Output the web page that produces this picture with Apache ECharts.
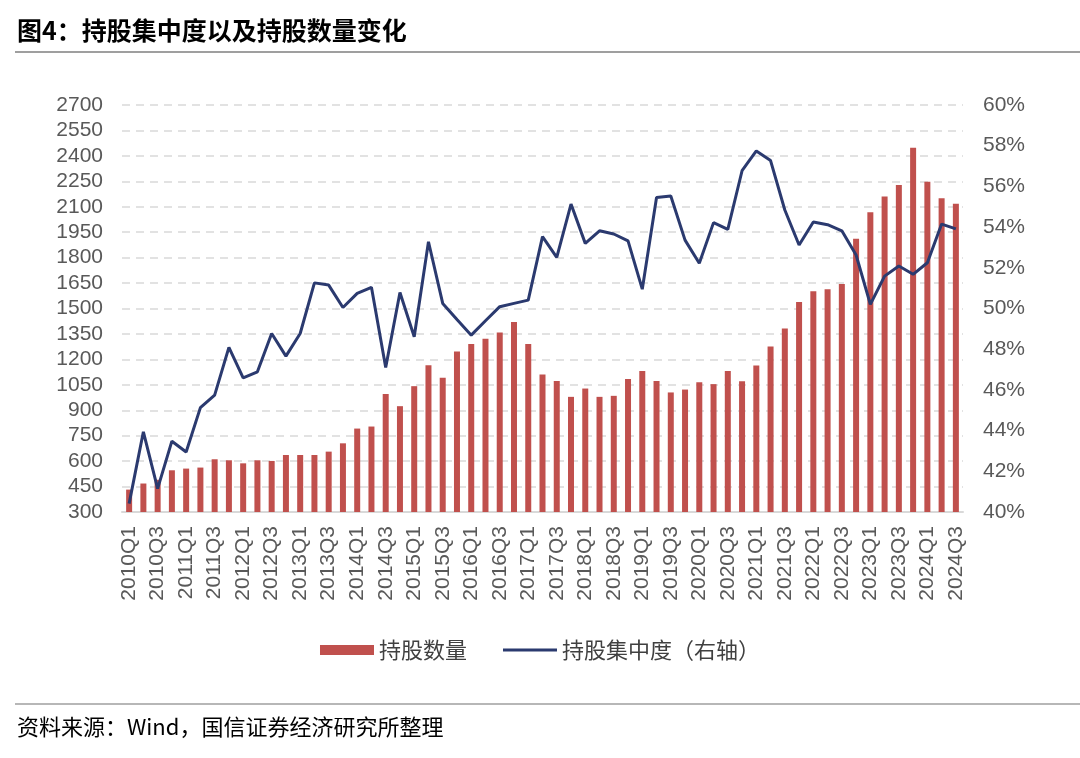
<!DOCTYPE html>
<html>
<head>
<meta charset="utf-8">
<script src="https://cdn.jsdelivr.net/npm/echarts@6/dist/echarts.min.js"></script>
<style>
html,body{margin:0;padding:0;background:#fff;}
#chart{width:1080px;height:758px;}
</style>
</head>
<body>
<div id="chart"></div>
<script>
const categories = [];
for (let y = 2010; y <= 2024; y++) {
  for (let q = 1; q <= 4; q++) {
    if (y === 2024 && q === 4) break;
    categories.push(y + 'Q' + q);
  }
}
const holdingCount = [432, 468, 490, 546, 556, 562, 611, 605, 587, 605, 601, 636, 636, 636, 656, 705, 792, 804, 996, 924,
  1042, 1166, 1091, 1246, 1290, 1321, 1359, 1421, 1290, 1111, 1073, 979, 1028, 979, 985, 1085, 1132, 1073, 1005, 1022,
  1065, 1054, 1132, 1071, 1164, 1276, 1382, 1539, 1601, 1613, 1644, 1911, 2067, 2161, 2228, 2448, 2248, 2150, 2118];
const concentration = [40.41, 43.94, 41.15, 43.48, 42.95, 45.13, 45.74, 48.09, 46.59, 46.89, 48.77, 47.66, 48.77, 51.26, 51.15, 50.05, 50.74, 51.04, 47.10, 50.79,
  48.61, 53.28, 50.25, 49.46, 48.69, 49.40, 50.09, 50.25, 50.41, 53.53, 52.51, 55.13, 53.20, 53.82, 53.66, 53.32, 50.95, 55.45, 55.53, 53.36,
  52.22, 54.22, 53.89, 56.77, 57.74, 57.27, 54.84, 53.12, 54.25, 54.12, 53.82, 52.63, 50.20, 51.59, 52.09, 51.68, 52.25, 54.15, 53.91];
const leftTicks = {min: 300, max: 2700, interval: 150};
const rightTicks = {min: 40, max: 60, interval: 2};
const seriesNames = ['持股数量', '持股集中度（右轴）'];
const titleText = '图4：持股集中度以及持股数量变化';
const sourceText = '资料来源：Wind，国信证券经济研究所整理';

const FONT = '"Liberation Sans", Arial, "Noto Sans CJK SC", sans-serif';
const CJK = '"Noto Sans CJK SC", "Liberation Sans", sans-serif';
const chart = echarts.init(document.getElementById('chart'), null, {renderer: 'canvas'});
chart.setOption({
  backgroundColor: '#ffffff',
  animation: false,
  textStyle: {fontFamily: FONT},
  graphic: [
    {type: 'text', left: 17, top: 18, style: {text: titleText, font: 'bold 25px ' + CJK, fill: '#000'}},
    {type: 'line', shape: {x1: 15, y1: 52, x2: 1080, y2: 52}, style: {stroke: '#7f7f7f', lineWidth: 1.5}},
    {type: 'line', shape: {x1: 15, y1: 704, x2: 1080, y2: 704}, style: {stroke: '#9f9f9f', lineWidth: 1.5}},
    {type: 'text', left: 17, top: 716, style: {text: sourceText, font: '22px ' + CJK, fill: '#000'}}
  ],
  legend: {
    top: 634,
    left: 'center',
    itemGap: 36,
    itemWidth: 54,
    itemHeight: 10,
    textStyle: {fontFamily: CJK, fontSize: 22, color: '#404040'},
    data: [
      {name: seriesNames[0], icon: 'rect'},
      {name: seriesNames[1], icon: 'path://M0,0 L54,0 L54,3 L0,3 Z'}
    ]
  },
  grid: {left: 122, right: 117, top: 105, bottom: 246},
  xAxis: {
    type: 'category',
    data: categories,
    boundaryGap: true,
    axisTick: {show: false},
    axisLine: {lineStyle: {color: '#D9D9D9', width: 2}},
    axisLabel: {interval: 1, rotate: 90, fontSize: 21, color: '#595959', margin: 14, fontFamily: FONT}
  },
  yAxis: [
    {
      type: 'value', min: leftTicks.min, max: leftTicks.max, interval: leftTicks.interval,
      axisLine: {show: false}, axisTick: {show: false},
      axisLabel: {fontSize: 21, color: '#595959', margin: 19, fontFamily: FONT, formatter: v => String(v)},
      splitLine: {lineStyle: {color: '#D9D9D9', type: [8, 6], width: 1.5}}
    },
    {
      type: 'value', min: rightTicks.min, max: rightTicks.max, interval: rightTicks.interval,
      axisLine: {show: false}, axisTick: {show: false},
      axisLabel: {fontSize: 21, color: '#595959', margin: 20, formatter: '{value}%', fontFamily: FONT},
      splitLine: {show: false}
    }
  ],
  series: [
    {
      name: seriesNames[0], type: 'bar', data: holdingCount, barWidth: 6,
      itemStyle: {color: '#C0504D'}
    },
    {
      name: seriesNames[1], type: 'line', yAxisIndex: 1, data: concentration,
      symbol: 'none', lineStyle: {color: '#2B3A6F', width: 3}, itemStyle: {color: '#2B3A6F'}
    }
  ]
});
</script>
</body>
</html>
